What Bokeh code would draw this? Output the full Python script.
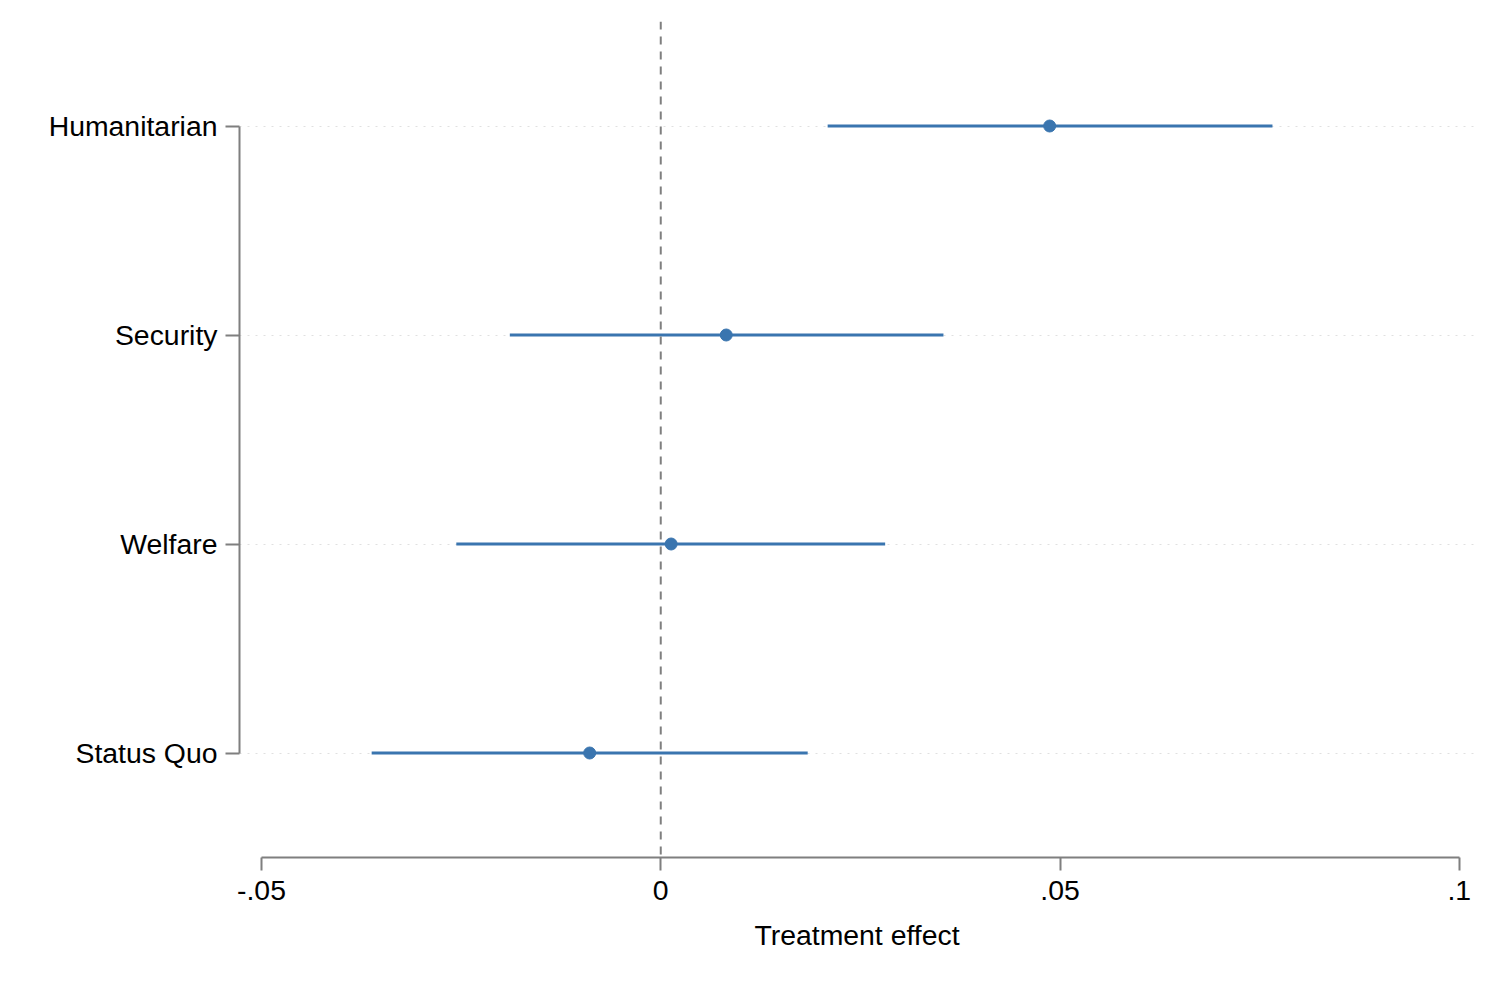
from bokeh.plotting import figure
from bokeh.models import FixedTicker, CustomJSTickFormatter, Span, ColumnDataSource, Range1d
from bokeh.embed import file_html
from bokeh.resources import INLINE

categories = ["Humanitarian", "Security", "Welfare", "Status Quo"]
estimates = [0.0487, 0.0082, 0.0013, -0.0089]
ci_low = [0.0209, -0.0189, -0.0256, -0.0362]
ci_high = [0.0766, 0.0354, 0.0281, 0.0184]
x_ticks = [-0.05, 0, 0.05, 0.1]

ypos = list(range(len(categories), 0, -1))
src = ColumnDataSource(dict(y=ypos, est=estimates, lo=ci_low, hi=ci_high, cat=categories))

FONT = "Liberation Sans"
FS = "28.4px"
BLUE = "#3a75af"
GRAY = "#7f7f7f"

p = figure(output_backend="svg", toolbar_location=None,
           frame_width=1235, frame_height=836,
           min_border_left=239, min_border_right=0, min_border_top=21, min_border_bottom=111,
           x_range=Range1d(-0.05275, 0.1019), y_range=Range1d(0.5, 4.5))
p.outline_line_color = None
p.background_fill_color = "white"
p.border_fill_color = "white"

# zero reference line
p.add_layout(Span(location=0, dimension="height", line_color=GRAY, line_width=2, line_dash="8 7"))

p.segment(x0="lo", x1="hi", y0="y", y1="y", source=src, line_color=BLUE, line_width=3)
p.scatter(x="est", y="y", source=src, size=12, marker="circle", fill_color=BLUE, line_color=BLUE)

# x axis
xa = p.xaxis[0]
xa.ticker = FixedTicker(ticks=x_ticks)
xa.formatter = CustomJSTickFormatter(code="""
if (tick == 0) return "0";
return tick.toString().replace("0.", ".");
""")
xa.bounds = (min(x_ticks), max(x_ticks))
xa.axis_label = "Treatment effect"
xa.axis_label_text_font = FONT
xa.axis_label_text_font_size = FS
xa.axis_label_text_font_style = "normal"
xa.axis_label_text_color = "black"
xa.axis_label_standoff = 16
xa.major_label_text_font = FONT
xa.major_label_text_font_size = FS
xa.major_label_text_color = "black"
xa.major_label_standoff = 10
xa.axis_line_color = GRAY
xa.axis_line_width = 2
xa.major_tick_line_color = GRAY
xa.major_tick_line_width = 2
xa.major_tick_out = 13
xa.major_tick_in = 0
xa.minor_tick_line_color = None

# y axis
ya = p.yaxis[0]
ya.ticker = FixedTicker(ticks=ypos)
ya.major_label_overrides = {y: c for y, c in zip(ypos, categories)}
ya.bounds = (min(ypos), max(ypos))
ya.major_label_text_font = FONT
ya.major_label_text_font_size = FS
ya.major_label_text_color = "black"
ya.major_label_standoff = 8
ya.axis_line_color = GRAY
ya.axis_line_width = 2
ya.major_tick_line_color = GRAY
ya.major_tick_line_width = 2
ya.major_tick_out = 14
ya.major_tick_in = 0
ya.minor_tick_line_color = None

p.xgrid.grid_line_color = None
p.ygrid.grid_line_color = "#e0e0e0"
p.ygrid.grid_line_width = 1
p.ygrid.grid_line_dash = "2 6"

open("out.html", "w").write(file_html(p, INLINE))
